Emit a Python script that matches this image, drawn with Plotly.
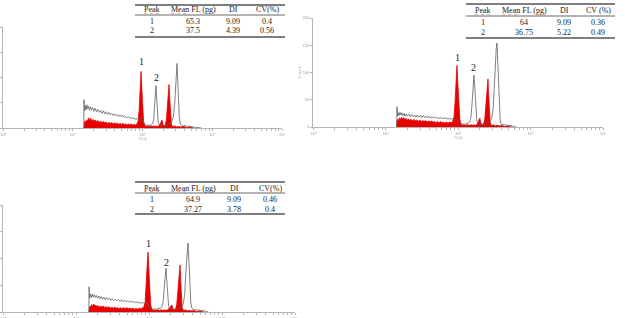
import plotly.graph_objects as go

W, H = 625, 318

# ---------------- data (fluorescence channel, count) ----------------
p1_red = [(14.4,0),(14.5,10),(14.9,14),(15.3,11),(15.8,16),(16.3,13),(16.9,20),(17.5,15),(18.1,19),(18.8,14),(19.5,17),(20.2,13),(21.0,16),(21.9,12),(22.9,15),(24.0,11),(25.1,14),(26.3,10),(27.5,13),(28.8,10),(30.2,12),(31.6,9),(33.1,11),(34.7,9),(36.3,11),(38.0,8),(39.8,10),(41.7,8),(43.7,10),(45.7,7),(47.9,9),(50.1,7),(52.5,9),(55.0,7),(57.5,8),(60.3,6),(63.1,8),(66.1,6),(69.2,8),(72.4,6),(75.9,7),(79.4,6),(83.2,8),(86.5,14),(89.5,35),(92.5,75),(95.2,112),(97.8,78),(100.5,38),(103.5,14),(107,6),(112,3),(118,4),(124,3),(130,4),(137,3),(144,4),(151,3),(158,4),(165,3),(172,5),(179,7),(185,12),(190,16),(195,9),(200,4),(207,4),(214,7),(221,20),(228,50),(234,78),(240,86),(246,58),(252,24),(259,8),(267,4),(278,3),(292,4),(310,2),(330,3),(355,2),(390,3),(430,1),(480,2),(540,0)]
p1_gray = [(14.4,0),(14.5,56),(14.8,34),(15.1,44),(15.5,36),(15.9,46),(16.4,38),(16.9,43),(17.4,35),(18.0,42),(18.6,36),(19.3,40),(20.0,33),(20.9,39),(21.9,32),(22.9,37),(24.0,31),(25.1,35),(26.3,29),(27.5,34),(28.8,28),(30.2,32),(31.6,27),(33.1,31),(34.7,26),(36.3,29),(38.0,25),(39.8,28),(41.7,24),(43.7,27),(45.7,23),(47.9,26),(50.1,22),(52.5,25),(55.0,21),(57.5,23),(60.3,20),(63.1,22),(66.1,19),(69.2,21),(72.4,18),(75.9,20),(79.4,17),(83.2,19),(87.1,16),(91.2,19),(95.5,21),(100,12),(105,8),(110,6),(116,5),(122,6),(128,5),(134,6),(140,9),(145,18),(149,45),(153,72),(156,84),(159,62),(163,28),(168,11),(175,6),(183,5),(192,6),(201,5),(211,6),(221,5),(231,7),(242,8),(253,10),(265,14),(278,24),(290,50),(300,95),(307,122),(313,128),(319,100),(327,52),(337,20),(350,8),(366,5),(385,4),(410,5),(440,3),(475,4),(515,2),(560,2),(620,1),(700,0)]

p2_red = [(14.3,0),(14.4,11),(14.8,14),(15.2,12),(15.7,17),(16.2,13),(16.7,18),(17.3,14),(17.9,17),(18.5,13),(19.2,16),(19.9,12),(20.7,15),(21.6,12),(22.6,14),(23.6,11),(24.7,14),(25.8,11),(27.0,13),(28.3,10),(29.6,13),(31.0,10),(32.5,12),(34.0,10),(35.6,12),(37.3,9),(39.1,11),(41.0,9),(43.0,11),(45.1,9),(47.3,10),(49.6,8),(52.0,10),(54.5,8),(57.2,10),(60.0,8),(63.0,9),(66.1,7),(69.4,9),(72.8,7),(76.4,9),(80.2,8),(84.2,10),(88,18),(91,45),(94,85),(96.8,113),(99.5,80),(102.5,40),(106,14),(110,6),(115,3),(121,4),(128,3),(135,4),(142,3),(150,4),(158,3),(166,4),(174,3),(182,5),(189,8),(195,13),(200,16),(205,9),(211,4),(218,4),(226,6),(234,14),(241,35),(248,65),(254,82),(259,88),(264,62),(270,28),(277,9),(285,4),(296,3),(310,4),(326,2),(345,3),(370,2),(400,3),(440,1),(490,2),(550,0)]
p2_gray = [(14.3,0),(14.4,37),(14.7,20),(15.0,26),(15.4,21),(15.8,27),(16.3,22),(16.8,26),(17.4,21),(18.0,25),(18.6,20),(19.3,24),(20.0,20),(20.9,24),(21.9,19),(22.9,23),(24.0,19),(25.1,22),(26.3,18),(27.5,22),(28.8,18),(30.2,21),(31.6,17),(33.1,21),(34.7,17),(36.3,20),(38.0,17),(39.8,20),(41.7,16),(43.7,19),(45.7,16),(47.9,19),(50.1,16),(52.5,18),(55.0,15),(57.5,18),(60.3,15),(63.1,17),(66.1,15),(69.2,17),(72.4,14),(75.9,16),(79.4,14),(83.2,16),(87.1,13),(91.2,15),(96,14),(101,9),(106,6),(112,5),(118,6),(124,5),(131,6),(138,7),(145,10),(151,18),(156,42),(161,78),(166,95),(171,70),(176,30),(182,11),(189,6),(197,5),(205,6),(214,5),(223,6),(233,5),(243,6),(254,7),(265,8),(277,10),(290,16),(304,30),(316,70),(328,120),(337,145),(345,154),(353,118),(362,60),(372,22),(383,9),(396,5),(412,4),(430,5),(450,3),(475,4),(505,2),(540,3),(580,1),(640,0)]

p3_red = [(15.0,0),(15.1,8),(15.5,11),(15.9,9),(16.4,14),(16.9,10),(17.5,15),(18.1,11),(18.7,13),(19.4,10),(20.1,12),(20.9,9),(21.8,11),(22.7,9),(23.7,11),(24.7,8),(25.8,10),(27.0,8),(28.2,10),(29.5,7),(30.9,9),(32.4,7),(33.9,9),(35.5,7),(37.2,8),(39.0,6),(40.9,8),(42.9,6),(45.0,8),(47.2,6),(49.5,8),(52.0,6),(54.6,7),(57.3,6),(60.2,7),(63.2,5),(66.4,7),(69.8,5),(73.3,7),(77.0,6),(80.9,7),(84.9,9),(88.5,18),(91.5,45),(94.2,85),(96.8,112),(99.4,80),(102.3,38),(105.5,13),(109,6),(114,3),(120,4),(126,3),(133,4),(140,3),(148,4),(156,3),(164,4),(172,3),(180,4),(188,6),(195,9),(201,12),(206,13),(211,8),(217,4),(224,4),(232,6),(240,14),(248,35),(255,65),(261,82),(266,88),(271,62),(277,27),(284,9),(292,4),(303,3),(317,4),(333,2),(352,3),(377,2),(408,3),(450,1),(500,2),(560,0)]
p3_gray = [(15.0,0),(15.1,47),(15.4,26),(15.8,33),(16.2,27),(16.7,34),(17.2,28),(17.8,32),(18.4,27),(19.0,31),(19.7,26),(20.4,30),(21.2,25),(22.1,29),(23.0,24),(24.0,28),(25.1,23),(26.2,27),(27.4,23),(28.7,26),(30.0,22),(31.5,25),(33.0,21),(34.6,24),(36.3,21),(38.1,23),(40.0,20),(42.0,23),(44.1,19),(46.3,22),(48.6,19),(51.0,21),(53.6,18),(56.3,21),(59.1,18),(62.1,20),(65.2,17),(68.5,19),(72.0,17),(75.6,18),(79.4,16),(83.4,18),(87.6,15),(92,17),(97,15),(102,9),(107,6),(113,5),(119,6),(126,5),(133,6),(140,7),(147,8),(153,12),(158,25),(163,52),(167,75),(171,82),(175,60),(180,26),(186,10),(193,6),(201,5),(210,6),(219,5),(229,6),(239,5),(249,6),(260,7),(271,8),(283,10),(295,16),(308,32),(320,75),(331,115),(342,129),(352,98),(362,48),(373,18),(385,8),(400,5),(418,4),(438,5),(460,3),(486,4),(516,2),(550,3),(590,1),(650,0)]

# table contents
headers_1 = ["Peak", "Mean FL (pg)", "DI", "CV(%)"]
headers_2 = ["Peak", "Mean FL (pg)", "DI", "CV (%)"]
headers_3 = ["Peak", "Mean FL (pg)", "DI", "CV(%)"]
rows_1 = [["1", "65.3", "9.09", "0.4"], ["2", "37.5", "4.39", "0.56"]]
rows_2 = [["1", "64", "9.09", "0.36"], ["2", "36.75", "5.22", "0.49"]]
rows_3 = [["1", "64.9", "9.09", "0.46"], ["2", "37.27", "3.78", "0.4"]]
peak_labels = ["1", "2"]

decade_labels = ["10\u2070", "10\u00b9", "10\u00b2", "10\u00b3", "10\u2074"]
count_ticks = [0, 50, 100, 150, 200]

# ---------------- layout geometry (pixels) ----------------
panels = [
    dict(data=(p1_red, p1_gray), xpx=(3, 282), ypx=(27, 128),
         table=dict(x=(135, 285), lines=(5, 15, 37), rows=(10, 21.5, 31), cols=(152, 193, 233, 267),
                    headers=headers_1, body=rows_1),
         labels=[(141, 62), (156, 78)], ytitle=False, xtitle=True),
    dict(data=(p2_red, p2_gray), xpx=(313, 603), ypx=(18, 127),
         table=dict(x=(466, 615), lines=(4, 16, 38), rows=(10.5, 22.5, 33), cols=(483, 524, 564, 598),
                    headers=headers_2, body=rows_2),
         labels=[(457, 58), (473, 68)], ytitle=True, xtitle=True),
    dict(data=(p3_red, p3_gray), xpx=(3, 295), ypx=(205, 312),
         table=dict(x=(135, 285), lines=(182, 193, 214), rows=(188, 199, 209), cols=(152, 193, 234, 270),
                    headers=headers_3, body=rows_3),
         labels=[(148, 243), (166, 262)], ytitle=False, xtitle=False),
]

def px(x):
    return x / W

def py(y):
    return 1 - y / H

tickvals = []
ticktext = []
for d in range(4):
    for k in range(1, 10):
        tickvals.append(k * 10 ** d)
        ticktext.append(decade_labels[d] if k == 1 else "")
tickvals.append(10 ** 4)
ticktext.append(decade_labels[4])

fig = go.Figure()
layout = dict(width=W, height=H, margin=dict(l=0, r=0, t=0, b=0),
              paper_bgcolor="white", plot_bgcolor="white", showlegend=False,
              template="none", shapes=[], annotations=[])

AX = "#b5b5b5"
serif = "Liberation Serif"

for i, p in enumerate(panels, start=1):
    xa = "x" if i == 1 else f"x{i}"
    ya = "y" if i == 1 else f"y{i}"
    red, gray = p["data"]
    fig.add_trace(go.Scatter(x=[a for a, b in red], y=[b for a, b in red], xaxis=xa, yaxis=ya,
                             mode="lines", fill="tozeroy", fillcolor="rgb(232,0,0)",
                             line=dict(color="rgb(225,0,0)", width=0.8), hoverinfo="skip"))
    fig.add_trace(go.Scatter(x=[a for a, b in gray], y=[b for a, b in gray], xaxis=xa, yaxis=ya,
                             mode="lines", line=dict(color="rgb(95,95,95)", width=0.8), hoverinfo="skip"))
    x0, x1 = p["xpx"]
    yt, yb = p["ypx"]
    layout["xaxis" if i == 1 else f"xaxis{i}"] = dict(
        type="log", range=[0, 4], domain=[px(x0), px(x1)], anchor=ya,
        showline=True, linecolor=AX, linewidth=1, ticks="outside", ticklen=2, tickcolor=AX,
        tickwidth=0.7, tickvals=tickvals, ticktext=ticktext, tickangle=0,
        tickfont=dict(size=4, color="#999", family="Liberation Sans"),
        showgrid=False, zeroline=False,
        title=dict(text="FL2-A" if p["xtitle"] else "", font=dict(size=3, color="#999"), standoff=1))
    layout["yaxis" if i == 1 else f"yaxis{i}"] = dict(
        range=[0, 200], domain=[py(yb), py(yt)], anchor=xa,
        showline=True, linecolor=AX, linewidth=1, ticks="outside", ticklen=2, tickcolor=AX,
        tickwidth=0.7, tickvals=count_ticks, tickfont=dict(size=4, color="#999", family="Liberation Sans"),
        showgrid=False, zeroline=False,
        title=dict(text="Count" if p["ytitle"] else "", font=dict(size=4, color="#999"), standoff=1))

    t = p["table"]
    tx0, tx1 = t["x"]
    for j, ly in enumerate(t["lines"]):
        layout["shapes"].append(dict(type="line", xref="paper", yref="paper",
                                     x0=px(tx0), x1=px(tx1), y0=py(ly), y1=py(ly),
                                     line=dict(color="#555", width=1.4 if j != 1 else 0.9)))
    # spell-check underlines
    c0, c1 = t["cols"][0], t["cols"][1]
    for ux0, ux1 in [(c0 - 8, c0 + 8), (c1 - 22, c1 - 7), (c1 + 14, c1 + 21)]:
        layout["shapes"].append(dict(type="line", xref="paper", yref="paper",
                                     x0=px(ux0), x1=px(ux1), y0=py(t["lines"][1] - 1.5), y1=py(t["lines"][1] - 1.5),
                                     line=dict(color="rgba(220,40,40,0.55)", width=0.7, dash="dot")))
    all_rows = [t["headers"]] + t["body"]
    for r, row in enumerate(all_rows):
        for c, txt in enumerate(row):
            layout["annotations"].append(dict(
                text=txt, xref="paper", yref="paper", x=px(t["cols"][c]), y=py(t["rows"][r]),
                xanchor="center", yanchor="middle", showarrow=False,
                font=dict(family=serif, size=8, color="#222")))
    for lab, (lx, ly) in zip(peak_labels, p["labels"]):
        layout["annotations"].append(dict(
            text=lab, xref="paper", yref="paper", x=px(lx), y=py(ly),
            xanchor="center", yanchor="middle", showarrow=False,
            font=dict(family=serif, size=10, color="#222")))

fig.update_layout(**layout)
fig.write_html("out.html")
